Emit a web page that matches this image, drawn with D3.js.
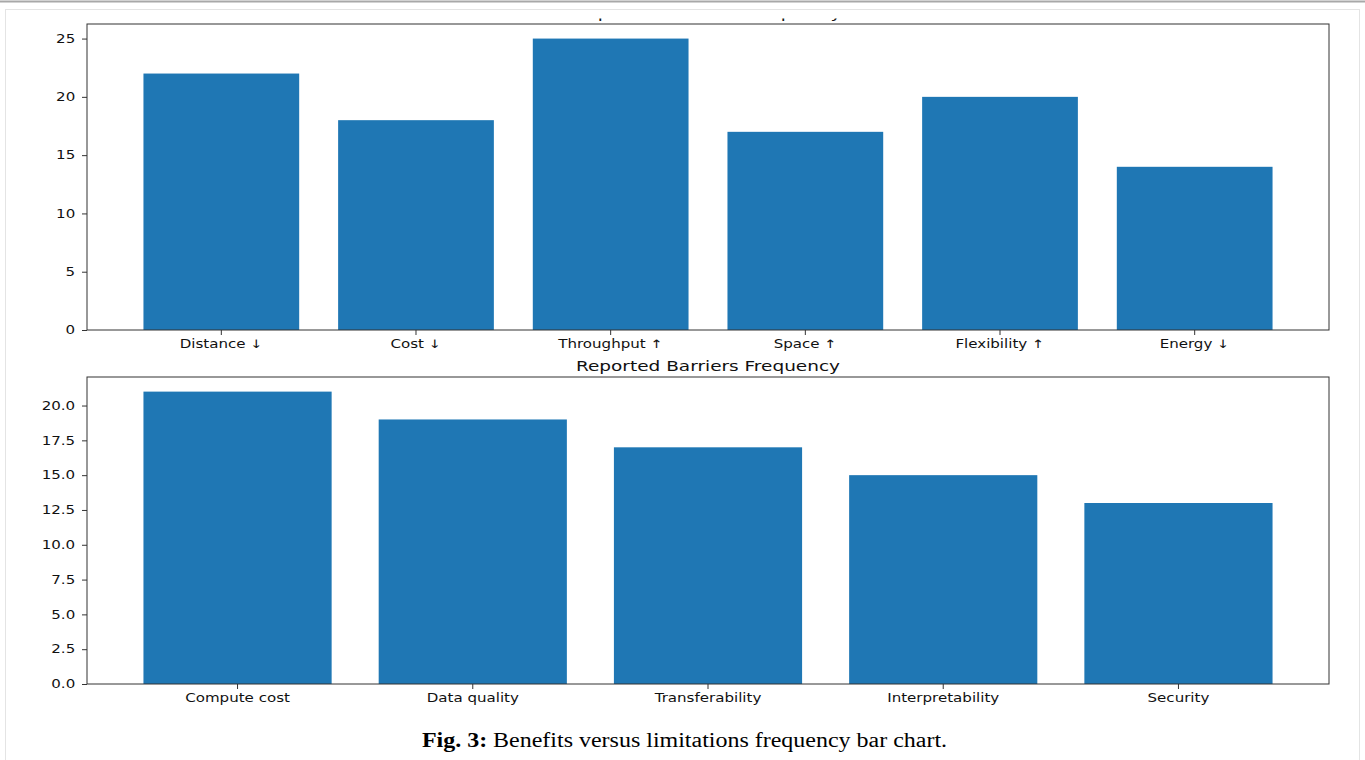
<!DOCTYPE html>
<html>
<head>
<meta charset="utf-8">
<script src="https://cdn.jsdelivr.net/npm/d3@7"></script>
<style>
  html, body { margin: 0; padding: 0; background: #fff; }
  svg { display: block; }
</style>
</head>
<body>
<script>
// data
var benefitCats = ["Distance \u2193", "Cost \u2193", "Throughput \u2191", "Space \u2191", "Flexibility \u2191", "Energy \u2193"];
var benefitVals = [22, 18, 25, 17, 20, 14];
var benefitTicks = [0, 5, 10, 15, 20, 25];

var barrierCats = ["Compute cost", "Data quality", "Transferability", "Interpretability", "Security"];
var barrierVals = [21, 19, 17, 15, 13];
var barrierTicks = [0, 2.5, 5, 7.5, 10, 12.5, 15, 17.5, 20];

var width = 1365, height = 760;
var barColor = "#1f77b4";
var stretch = 1.31;   // the source image is wider than tall, text looks stretched

var svg = d3.select("body").append("svg")
    .attr("width", width)
    .attr("height", height);

// page frame
svg.append("line")
    .attr("x1", 0).attr("x2", width)
    .attr("y1", 1.5).attr("y2", 1.5)
    .attr("stroke", "#a8a8a8").attr("stroke-width", 2);
svg.append("rect")
    .attr("x", 5.5).attr("y", 9.5)
    .attr("width", 1354).attr("height", 770)
    .attr("fill", "none")
    .attr("stroke", "#e4e4e4");

svg.append("clipPath").attr("id", "clipTop")
  .append("rect").attr("x", 0).attr("y", 18.5).attr("width", width).attr("height", 20);

function drawPanel(cats, vals, ticks, top, bottom, title, fmt, clipTitle) {
  var left = 87, right = 1329;
  var n = cats.length;
  var x = d3.scaleBand()
      .domain(cats)
      .range([left, right])
      .paddingInner(0.2)
      .paddingOuter(0.05 * (n - 0.2));
  var ymax = d3.max(vals) * 1.05;
  var y = d3.scaleLinear().domain([0, ymax]).range([bottom, top]);

  var g = svg.append("g");

  g.selectAll("rect.bar")
    .data(vals)
    .enter()
    .append("rect")
    .attr("class", "bar")
    .attr("x", (d, i) => x(cats[i]))
    .attr("width", x.bandwidth())
    .attr("y", d => y(d))
    .attr("height", d => bottom - y(d))
    .attr("fill", barColor);

  var xAxis = g.append("g")
    .attr("transform", "translate(0," + bottom + ")")
    .call(d3.axisBottom(x).tickSize(5).tickSizeOuter(0).tickPadding(4.5));
  var yAxis = g.append("g")
    .attr("transform", "translate(" + left + ",0)")
    .call(d3.axisLeft(y).tickValues(ticks).tickFormat(fmt).tickSize(5).tickSizeOuter(0).tickPadding(4));

  [xAxis, yAxis].forEach(a => {
    a.select(".domain").remove();
    a.selectAll("line").attr("stroke", "#333");
    a.selectAll("text")
      .attr("fill", "#111")
      .style("font-family", "DejaVu Sans")
      .style("font-size", "11.5px")
      .attr("transform", "scale(" + stretch + ",1)");
  });

  // axes frame
  g.append("rect")
    .attr("x", left).attr("y", top)
    .attr("width", right - left).attr("height", bottom - top)
    .attr("fill", "none")
    .attr("stroke", "#333")
    .attr("stroke-width", 1);

  var t = g.append("text")
    .attr("x", (left + right) / 2 / 1.34)
    .attr("y", top - 6)
    .attr("text-anchor", "middle")
    .attr("transform", "scale(1.34,1)")
    .attr("fill", "#111")
    .style("font-family", "DejaVu Sans")
    .style("font-size", "13.8px")
    .text(title);
  if (clipTitle) {
    var wrap = g.append("g").attr("clip-path", "url(#clipTop)");
    wrap.node().appendChild(t.node());
  }
}

drawPanel(benefitCats, benefitVals, benefitTicks, 24, 330, "Reported Benefits Frequency", d3.format("d"), true);
drawPanel(barrierCats, barrierVals, barrierTicks, 377, 684, "Reported Barriers Frequency", d3.format(".1f"), false);

// caption
var capScale = 1.17;
var cap = svg.append("text")
    .attr("x", 684.5 / capScale)
    .attr("y", 747)
    .attr("text-anchor", "middle")
    .attr("transform", "scale(" + capScale + ",1)")
    .style("font-family", "Liberation Serif")
    .style("font-size", "20.5px")
    .attr("fill", "#000");
cap.append("tspan").style("font-weight", "bold").text("Fig. 3:");
cap.append("tspan").text(" Benefits versus limitations frequency bar chart.");
</script>
</body>
</html>
